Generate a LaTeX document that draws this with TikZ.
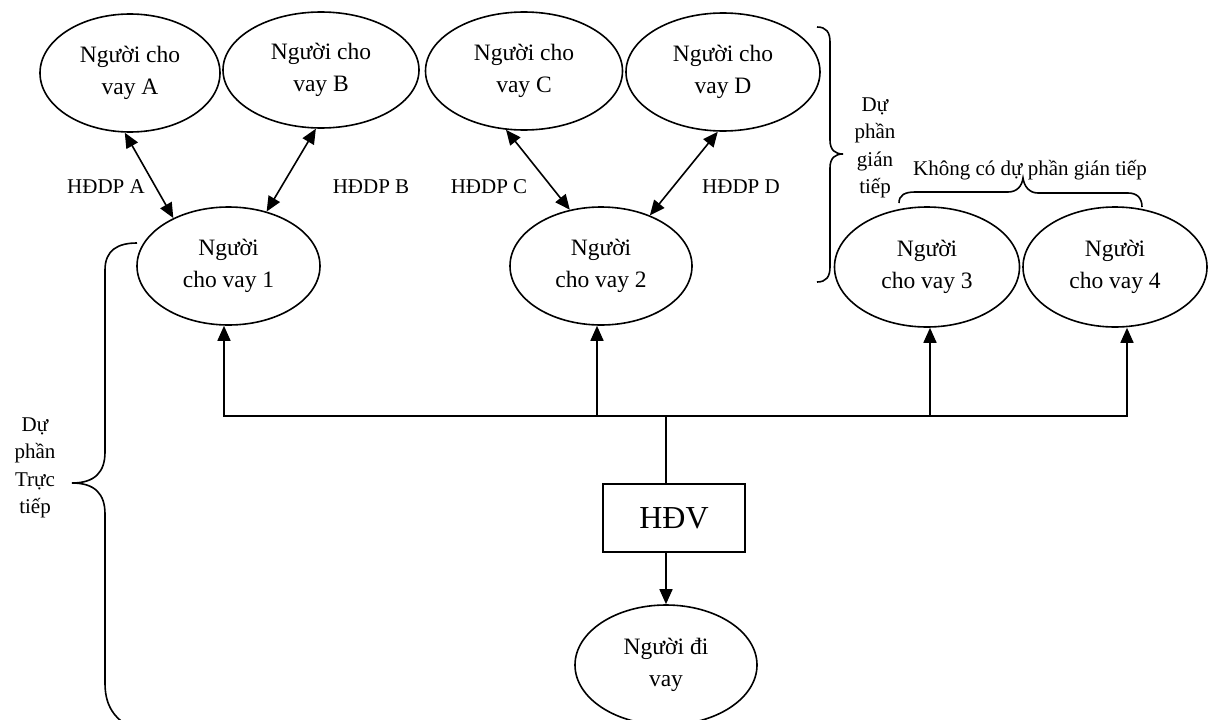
\documentclass[tikz,border=0pt]{standalone}
\usepackage{fontspec}
\setmainfont{Liberation Serif}
\usetikzlibrary{shapes.geometric,arrows.meta}
\begin{document}
\begin{tikzpicture}[x=1pt,y=-1pt,
  lender/.style={draw,ellipse,line width=1.6pt,inner sep=0pt,align=center,font=\fontsize{23.5}{32}\selectfont},
  lbl/.style={font=\fontsize{21}{27.5}\selectfont,align=center,inner sep=0pt},
  conn/.style={line width=1.6pt},
  bracepath/.style={line width=1.6pt},
  >={Triangle[length=15pt,width=13pt]}]
\clip (0,0) rectangle (1210,720);
\fill[white] (0,0) rectangle (1210,720);
% lenders (top row)
\node[lender,minimum width=180pt,minimum height=118pt] (A) at (130,73) {Người cho\\vay A};
\node[lender,minimum width=196pt,minimum height=116pt] (B) at (321,70) {Người cho\\vay B};
\node[lender,minimum width=197pt,minimum height=118pt] (C) at (524,71) {Người cho\\vay C};
\node[lender,minimum width=194pt,minimum height=118pt] (D) at (723,72) {Người cho\\vay D};
% lenders (middle row)
\node[lender,minimum width=183pt,minimum height=118pt] (n1) at (228.5,266) {Người\\cho vay 1};
\node[lender,minimum width=182pt,minimum height=118pt] (n2) at (601,266) {Người\\cho vay 2};
\node[lender,minimum width=185pt,minimum height=120pt] (n3) at (927,267) {Người\\cho vay 3};
\node[lender,minimum width=184pt,minimum height=120pt] (n4) at (1115,267) {Người\\cho vay 4};
% contract box and borrower
\node[draw,rectangle,line width=1.6pt,minimum width=142pt,minimum height=68pt,inner sep=0pt,font=\fontsize{32}{36}\selectfont] (h) at (674,518) {HĐV};
\node[lender,minimum width=182pt,minimum height=120pt] (b) at (666,665) {Người đi\\vay};
% sub-participation links
\draw[conn,<->] (A.-95) -- (n1.139);
\draw[conn,<->] (B.-95) -- (n1.55);
\draw[conn,<->] (C.-107) -- (n2.119);
\draw[conn,<->] (D.-95) -- (n2.46);
\node[lbl,anchor=base] (la) at (106,193) {HĐDP A};
\node[lbl,anchor=base] (lb) at (371,193) {HĐDP B};
\node[lbl,anchor=base] (lc) at (489,193) {HĐDP C};
\node[lbl,anchor=base] (ld) at (741,193) {HĐDP D};
% bus
\coordinate (j1) at (224,416);
\coordinate (j2) at (597,416);
\coordinate (jh) at (666,416);
\coordinate (j3) at (930,416);
\coordinate (j4) at (1127,416);
\draw[conn,<->] (j1 |- n1.south) -- (j1) -- (j4) -- (j4 |- n4.south);
\draw[conn,->] (j2) -- (j2 |- n2.south);
\draw[conn,->] (j3) -- (j3 |- n3.south);
\draw[conn] (jh) -- (jh |- h.north);
\draw[conn,->] (jh |- h.south) -- (jh |- b.north);
% braces
\draw[bracepath] (137,243) .. controls (118,243) and (105,250) .. (105,270) -- (105,452)
  .. controls (105,472) and (95,483) .. (72,483) .. controls (95,483) and (105,494) .. (105,514)
  -- (105,683) .. controls (105,703) and (112,716) .. (128,726);
\draw[bracepath] (817,27) .. controls (826,27) and (830,32) .. (830,42) -- (830,140)
  .. controls (830,150) and (835,154) .. (843,154) .. controls (835,154) and (830,158) .. (830,168)
  -- (830,267) .. controls (830,277) and (826,282) .. (817,282);
\draw[bracepath] (899,203) .. controls (899,195) and (905,192) .. (915,192) -- (1008,192)
  .. controls (1017,192) and (1022,186) .. (1023,178) .. controls (1024,186) and (1029,193) .. (1038,193)
  -- (1128,193) .. controls (1137,193) and (1142,198) .. (1142,207);
\node[lbl] (ttl) at (1030,170) {Không có dự phần gián tiếp};
\node[lbl] (ind) at (875,148) {Dự\\phần\\gián\\tiếp};
\node[lbl] (dir) at (35,468) {Dự\\phần\\Trực\\tiếp};
\end{tikzpicture}
\end{document}
